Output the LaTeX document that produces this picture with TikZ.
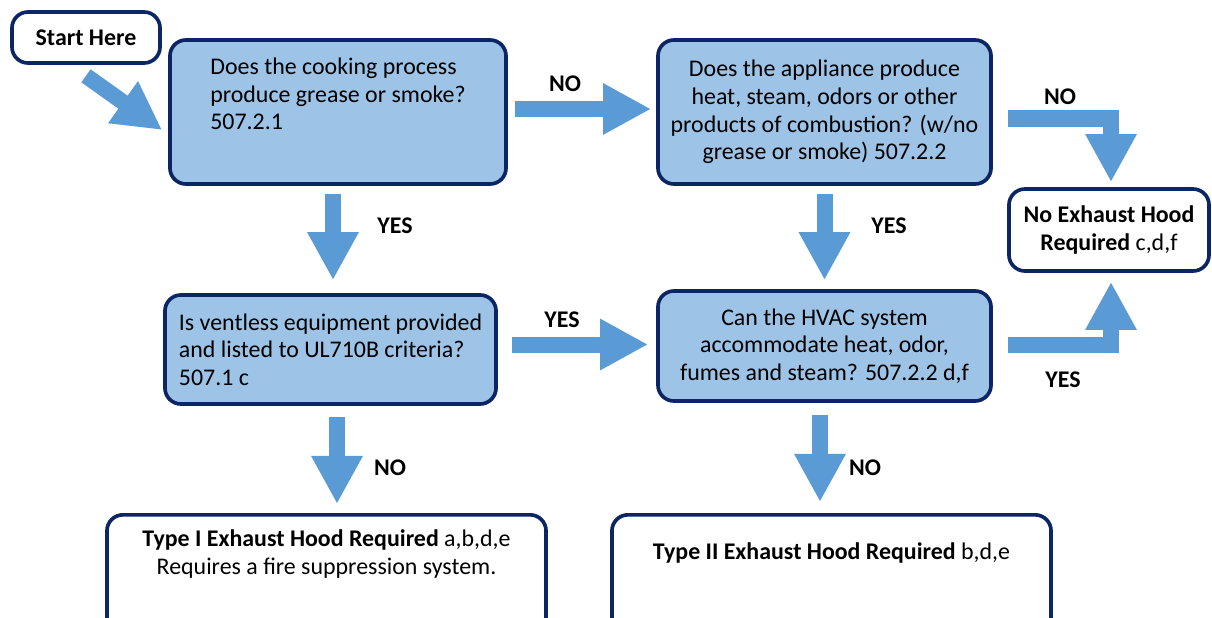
\documentclass[tikz,border=0pt]{standalone}
\usepackage{fontspec}
\setmainfont{Carlito}
\usetikzlibrary{arrows.meta,calc,positioning}
\definecolor{navy}{HTML}{0B2565}
\definecolor{qfill}{HTML}{9DC3E6}
\definecolor{arrowblue}{HTML}{5B9BD5}

\begin{document}
\begin{tikzpicture}[x=0.025cm, y=-0.025cm, font=\fontsize{17}{19.6}\selectfont]
\tikzstyle{box}=[draw=navy, line width=2.6pt, rounded corners=0.4cm, align=center, inner sep=0pt]
\tikzstyle{qbox}=[box, fill=qfill]
\tikzstyle{rbox}=[box, fill=white]
\tikzstyle{blk}=[draw=arrowblue, line width=0.4cm, -{Triangle[width=1.2cm,length=1.2cm]}]
\tikzstyle{lbl}=[font=\fontsize{17}{19.6}\selectfont\bfseries]
\useasboundingbox (0,0) rectangle (1212,618);

\node[rbox, minimum width=3.7cm, minimum height=1.275cm]   (start) at (86,37.5)  {\textbf{Start Here}};
\node[qbox, minimum width=8.4cm, minimum height=3.6cm, align=left]     (q1) at (338,112)  {Does the cooking process\\produce grease or smoke?\\507.2.1\\\strut};
\node[qbox, minimum width=8.325cm, minimum height=3.6cm]   (q2) at (824.5,112) {Does the appliance produce\\heat, steam, odors or other\\products of combustion? (w/no\\grease or smoke) 507.2.2};
\node[rbox, minimum width=5cm, minimum height=2.05cm]      (noex) at (1109,230) {\textbf{No Exhaust Hood}\\\textbf{Required} c,d,f};
\node[qbox, minimum width=8.275cm, minimum height=2.725cm, align=left] (q3) at (330.5,349.5) {Is ventless equipment provided\\and listed to UL710B criteria?\\507.1 c};
\node[qbox, minimum width=8.325cm, minimum height=2.75cm]  (q4) at (824.5,346) {Can the HVAC system\\accommodate heat, odor,\\fumes and steam? 507.2.2 d,f};
\node[rbox, minimum width=10.975cm, minimum height=3.75cm, anchor=north] (type1) at (326.5,513) {};
\node[rbox, minimum width=10.975cm, minimum height=3.75cm, anchor=north] (type2) at (831.5,513) {};
\node[align=center] (type1txt) at (326.5,554) {\textbf{Type I Exhaust Hood Required} a,b,d,e\\Requires a fire suppression system.};
\node[align=center] (type2txt) at (831.5,553) {\textbf{Type II Exhaust Hood Required} b,d,e};

\coordinate (s1) at ($(start.south)+(0,11)$);
\coordinate (n1) at ($(q1.east)+(7,-3)$);
\coordinate (y1) at ($(q1.south)+(-5,8)$);
\coordinate (y2) at ($(q2.south)+(0,8)$);
\coordinate (y3) at ($(q3.east)+(14,-5)$);
\coordinate (n2) at ($(q3.south)+(6.5,11)$);
\coordinate (n3) at ($(q4.south)+(-4.5,12)$);
\coordinate (n4) at ($(q2.east)+(15,6.5)$);
\coordinate (y4) at ($(q4.east)+(15,-1)$);

\draw[blk] (s1) -- ($(q1.west)+(-6,18)$);
\draw[blk, shorten >=0.125cm] (n1) -- (n1 -| q2.west);
\draw[blk, shorten >=0.325cm] (y1) -- (y1 |- q3.north);
\draw[blk, shorten >=0.225cm] (y2) -- (y2 |- q4.north);
\draw[blk, shorten >=0.2cm]   (y3) -- (y3 -| q4.west);
\draw[blk, shorten >=0.225cm] (n2) -- (n2 |- type1.north);
\draw[blk, shorten >=0.275cm] (n3) -- (n3 |- type2.north);
\draw[blk, shorten >=0.125cm] (n4) -| ([xshift=0.05cm]noex.north);
\draw[blk, shorten >=0.225cm] (y4) -| ([xshift=0.05cm]noex.south);

\node[lbl] (lno1)  at (565,84)   {NO};
\node[lbl] (lyes1) at (395,226)  {YES};
\node[lbl] (lyes2) at (889,226)  {YES};
\node[lbl] (lno2)  at (1060,97)  {NO};
\node[lbl] (lyes3) at (562,320)  {YES};
\node[lbl] (lyes4) at (1063,380) {YES};
\node[lbl] (lno3)  at (390,468)  {NO};
\node[lbl] (lno4)  at (865,468)  {NO};
\end{tikzpicture}
\end{document}
